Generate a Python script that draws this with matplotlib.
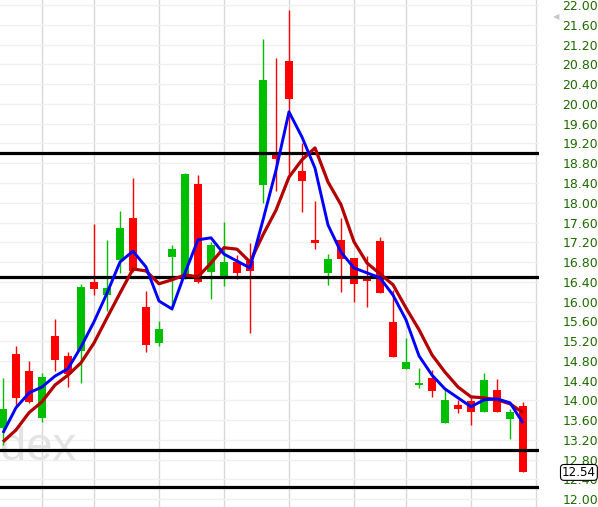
import matplotlib
matplotlib.use("Agg")
import matplotlib.pyplot as plt
import numpy as np

# daily candles
opens = [13.44, 14.94, 14.60, 13.64, 15.30, 14.90, 15.00, 16.40, 16.13, 16.84,
         17.69, 15.89, 15.16, 16.90, 16.48, 18.38, 16.60, 16.50, 16.80, 16.82,
         18.36, 18.99, 20.87, 18.64, 17.25, 16.58, 17.25, 16.88, 16.52, 17.23,
         15.59, 14.64, 14.31, 14.45, 13.54, 13.91, 13.99, 13.77, 14.21, 13.62,
         13.89]
highs = [14.45, 15.10, 14.80, 14.55, 15.65, 14.98, 16.36, 17.57, 17.25, 17.83,
         18.50, 16.21, 15.61, 17.15, 18.60, 18.56, 17.21, 17.61, 16.94, 17.19,
         21.32, 20.93, 21.90, 19.21, 18.04, 16.96, 17.69, 16.88, 16.92, 17.31,
         16.23, 15.26, 14.66, 14.62, 14.21, 14.01, 14.07, 14.55, 14.43, 13.83,
         13.97]
lows = [13.10, 13.87, 13.95, 13.56, 14.60, 14.27, 14.35, 16.13, 15.81, 16.58,
        16.60, 14.98, 15.10, 15.83, 16.46, 16.38, 16.05, 16.32, 16.46, 15.36,
        18.00, 18.24, 18.56, 17.81, 17.06, 16.34, 16.19, 15.99, 15.89, 16.17,
        14.88, 14.64, 14.25, 14.07, 13.54, 13.74, 13.50, 13.77, 13.77, 13.22,
        12.54]
closes = [13.83, 14.05, 13.97, 14.47, 14.82, 14.53, 16.30, 16.26, 16.28, 17.49,
          16.62, 15.12, 15.45, 17.06, 18.58, 16.40, 17.15, 16.80, 16.58, 16.62,
          20.49, 18.89, 20.10, 18.44, 17.19, 16.86, 16.86, 16.36, 16.42, 16.17,
          14.88, 14.78, 14.35, 14.19, 14.01, 13.83, 13.77, 14.41, 13.77, 13.77,
          12.54]

fast_ma = [13.34, 13.85, 14.15, 14.27, 14.49, 14.64, 15.08, 15.59, 16.17, 16.80,
           17.02, 16.70, 16.01, 15.85, 16.58, 17.25, 17.29, 16.96, 16.82, 16.68,
           17.65, 18.66, 19.84, 19.33, 18.70, 17.55, 17.00, 16.68, 16.58, 16.48,
           16.13, 15.63, 14.90, 14.51, 14.23, 14.05, 13.87, 14.01, 14.03, 13.95,
           13.54]
slow_ma = [13.16, 13.40, 13.75, 13.97, 14.31, 14.51, 14.76, 15.16, 15.67, 16.17,
           16.66, 16.62, 16.36, 16.44, 16.54, 16.50, 16.78, 17.09, 17.06, 16.80,
           17.35, 17.85, 18.52, 18.87, 19.11, 18.42, 17.96, 17.21, 16.78, 16.56,
           16.34, 15.87, 15.43, 14.92, 14.57, 14.27, 14.07, 14.05, 14.01, 13.93,
           13.75]

levels = [19.00, 16.50, 13.00, 12.25]
week_starts = [3, 7, 12, 17, 22, 27, 31, 36, 41]
last_price = 12.54

GREEN = "#00bf00"
RED = "#ff0000"

fig = plt.figure(figsize=(5.98, 5.07), dpi=100)
ax = fig.add_axes([0, 0, 539 / 598, 1])

x = np.arange(len(closes))
o = np.array(opens)
c = np.array(closes)
up = c >= o
colors = [GREEN if u else RED for u in up]

# wicks and bodies
ax.vlines(x, lows, highs, colors=colors, linewidth=1.0, zorder=2)
bottoms = np.minimum(o, c)
heights = np.maximum(np.abs(c - o), 0.04)
ax.bar(x, heights, bottom=bottoms, width=0.68, color=colors, linewidth=0, zorder=2)

# support / resistance
for lv in levels:
    ax.axhline(lv, color="black", linewidth=2.3, zorder=3)

ax.plot(x, slow_ma, color="#b40000", linewidth=2.3, zorder=4, solid_capstyle="butt")
ax.plot(x, fast_ma, color="#0000ff", linewidth=2.1, zorder=5, solid_capstyle="butt")

ax.set_xlim(-0.23, 41.23)
ax.set_ylim(11.84, 22.105)

yt = np.arange(12.0, 22.01, 0.4)
ax.set_yticks(yt)
ax.set_yticklabels(["%.2f" % v for v in yt])
ax.yaxis.tick_right()
ax.tick_params(axis="y", length=0, pad=17, labelsize=9, labelcolor="#1f6a00")
ax.set_xticks(week_starts)
ax.tick_params(axis="x", length=0, labelbottom=False)
ax.grid(axis="y", color="#f0f0f0", linewidth=1.0, zorder=0)
ax.grid(axis="x", color="#d8d8d8", linewidth=1.0, zorder=0)
ax.set_axisbelow(True)
for s in ax.spines.values():
    s.set_visible(False)

# watermark
ax.text(0.0, 0.093, "dex", transform=ax.transAxes, ha="left", va="baseline",
        fontsize=34, color="#e3e3e3", family="Liberation Sans", zorder=1)

# last price tag
ax.annotate("%.2f" % last_price, xy=(1.0, last_price), xycoords=("axes fraction", "data"),
            xytext=(16.5, 0), textcoords="offset points", ha="left", va="center",
            fontsize=8.6, color="black", annotation_clip=False, zorder=10,
            bbox=dict(boxstyle="round,pad=0.12,rounding_size=0.3", fc="white", ec="black", lw=0.8))

# small grey marker near the top of the scale
ax.annotate("\u25c0", xy=(1.0, 21.78), xycoords=("axes fraction", "data"),
            xytext=(10, 0), textcoords="offset points", ha="left", va="center",
            fontsize=6, color="#c8c8c8", annotation_clip=False)

fig.savefig("out.png", dpi=100)
